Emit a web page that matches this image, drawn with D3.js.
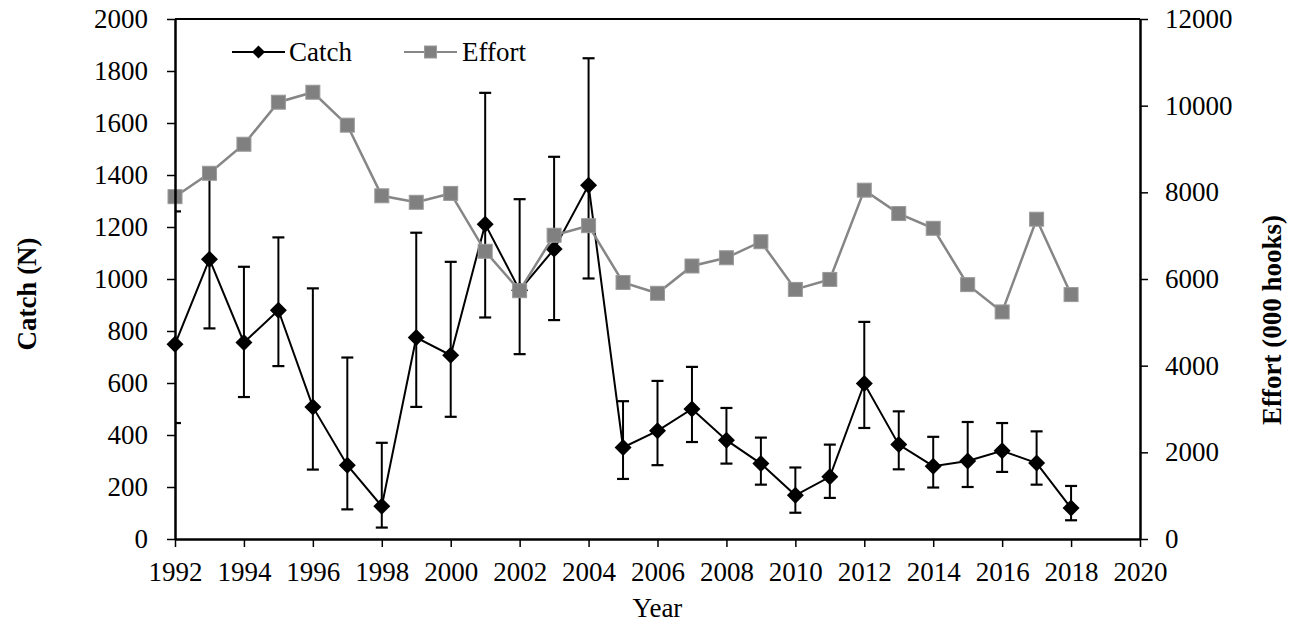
<!DOCTYPE html>
<html>
<head>
<meta charset="utf-8">
<script src="https://cdn.jsdelivr.net/npm/d3@7"></script>
<style>
  html, body { margin: 0; padding: 0; background: #fff; }
  svg text { font-family: "Liberation Serif", "Times New Roman", serif; fill: #000; }
</style>
</head>
<body>
<svg id="chart" width="1291" height="623"></svg>
<script>
const years = [1992,1993,1994,1995,1996,1997,1998,1999,2000,2001,2002,2003,2004,2005,2006,2007,2008,2009,2010,2011,2012,2013,2014,2015,2016,2017,2018];
const catchVals = [749,1076,756,880,508,284,126,775,707,1211,957,1115,1361,352,416,500,380,290,168,239,598,363,280,300,339,292,119];
const catchUpper = [1260,1420,1047,1160,964,698,370,1178,1066,1716,1307,1470,1849,530,608,662,504,390,275,363,835,491,393,450,446,414,204];
const catchLower = [446,810,546,665,267,114,44,508,470,852,711,842,1002,231,284,373,290,209,101,158,427,268,198,200,258,209,72];
const effortVals = [7900,8440,9110,10080,10310,9550,7920,7770,7975,6640,5730,7010,7230,5920,5670,6300,6490,6860,5760,5990,8050,7510,7170,5870,5240,7380,5640];
const xTicks = [1992,1994,1996,1998,2000,2002,2004,2006,2008,2010,2012,2014,2016,2018,2020];
const leftTicks = [0,200,400,600,800,1000,1200,1400,1600,1800,2000];
const rightTicks = [0,2000,4000,6000,8000,10000,12000];
const seriesNames = ["Catch", "Effort"];
const titles = {x: "Year", left: "Catch (N)", right: "Effort (000 hooks)"};

const svg = d3.select("#chart");
const L = 175, R = 1140, T = 19, B = 539;
const fs = 27;
const fmt = d3.format("d");

const x = d3.scaleLinear().domain([1992, 2020]).range([L, R]);
const yL = d3.scaleLinear().domain([0, 2000]).range([B, T]);
const yR = d3.scaleLinear().domain([0, 12000]).range([B, T]);

svg.append("defs").append("clipPath").attr("id", "plotclip")
  .append("rect").attr("x", L).attr("y", 0).attr("width", R - L).attr("height", B + 10);

// error bars
const eb = svg.append("g").attr("clip-path", "url(#plotclip)");
years.forEach((yr, i) => {
  const cx = x(yr);
  eb.append("line").attr("x1", cx).attr("x2", cx)
    .attr("y1", yL(catchLower[i])).attr("y2", yL(catchUpper[i]))
    .attr("stroke", "#000").attr("stroke-width", 2);
  [catchLower[i], catchUpper[i]].forEach(v => {
    eb.append("line").attr("x1", cx - 6).attr("x2", cx + 6)
      .attr("y1", yL(v)).attr("y2", yL(v))
      .attr("stroke", "#000").attr("stroke-width", 2.2);
  });
});

// catch line
const catchLine = d3.line().x((d, i) => x(years[i])).y(d => yL(d));
svg.append("path").datum(catchVals).attr("d", catchLine)
  .attr("fill", "none").attr("stroke", "#000").attr("stroke-width", 2);
svg.selectAll(".dia").data(catchVals).enter().append("path")
  .attr("transform", (d, i) => `translate(${x(years[i])},${yL(d)})`)
  .attr("d", "M0,-8.5L8.5,0L0,8.5L-8.5,0Z")
  .attr("fill", "#000");

// effort line
const effortLine = d3.line().x((d, i) => x(years[i])).y(d => yR(d));
svg.append("path").datum(effortVals).attr("d", effortLine)
  .attr("fill", "none").attr("stroke", "#868686").attr("stroke-width", 2.5);
svg.selectAll(".sq").data(effortVals).enter().append("rect")
  .attr("x", (d, i) => x(years[i]) - 7).attr("y", d => yR(d) - 7)
  .attr("width", 14).attr("height", 14)
  .attr("fill", "#808080").attr("stroke", "#9a9a9a").attr("stroke-width", 1);

// axes
function styleAxis(g) {
  g.select(".domain").attr("stroke-width", 2.5);
  g.selectAll(".tick line").attr("stroke-width", 1.5);
  g.selectAll("text").attr("font-size", fs).attr("font-family", "Liberation Serif");
}
const ax = svg.append("g");
ax.append("g").attr("transform", `translate(0,${B})`)
  .call(d3.axisBottom(x).tickValues(xTicks).tickFormat(fmt).tickSize(8).tickSizeOuter(0).tickPadding(15))
  .call(styleAxis);
ax.append("g").attr("transform", `translate(${L},0)`)
  .call(d3.axisLeft(yL).tickValues(leftTicks).tickFormat(fmt).tickSize(8).tickSizeOuter(0).tickPadding(19))
  .call(styleAxis);
ax.append("g").attr("transform", `translate(${R},0)`)
  .call(d3.axisRight(yR).tickValues(rightTicks).tickFormat(fmt).tickSize(8).tickSizeOuter(0).tickPadding(17))
  .call(styleAxis);
// top border
svg.append("line").attr("x1", L).attr("x2", R).attr("y1", T).attr("y2", T)
  .attr("stroke", "#000").attr("stroke-width", 2);

// titles
svg.append("text").attr("x", (L + R) / 2).attr("y", 617).attr("text-anchor", "middle")
  .attr("font-size", fs).text(titles.x);
svg.append("text").attr("transform", `translate(36,294) rotate(-90)`).attr("text-anchor", "middle")
  .attr("font-size", fs).attr("font-weight", "bold").text(titles.left);
svg.append("text").attr("transform", `translate(1281,320) rotate(-90)`).attr("text-anchor", "middle")
  .attr("font-size", fs).attr("font-weight", "bold").text(titles.right);

// legend
const lg = svg.append("g");
const ly = 52;
lg.append("line").attr("x1", 232).attr("x2", 285).attr("y1", ly).attr("y2", ly).attr("stroke", "#000").attr("stroke-width", 2);
lg.append("path").attr("transform", `translate(258.5,${ly})`).attr("d", "M0,-6.5L6.5,0L0,6.5L-6.5,0Z").attr("fill", "#000");
lg.append("text").attr("x", 289).attr("y", ly + 9).attr("font-size", fs).text(seriesNames[0]);
lg.append("line").attr("x1", 404).attr("x2", 457).attr("y1", ly).attr("y2", ly).attr("stroke", "#868686").attr("stroke-width", 2);
lg.append("rect").attr("x", 430.5 - 6).attr("y", ly - 6).attr("width", 12).attr("height", 12).attr("fill", "#808080").attr("stroke", "#9a9a9a").attr("stroke-width", 1);
lg.append("text").attr("x", 462).attr("y", ly + 9).attr("font-size", fs).text(seriesNames[1]);
</script>
</body>
</html>
